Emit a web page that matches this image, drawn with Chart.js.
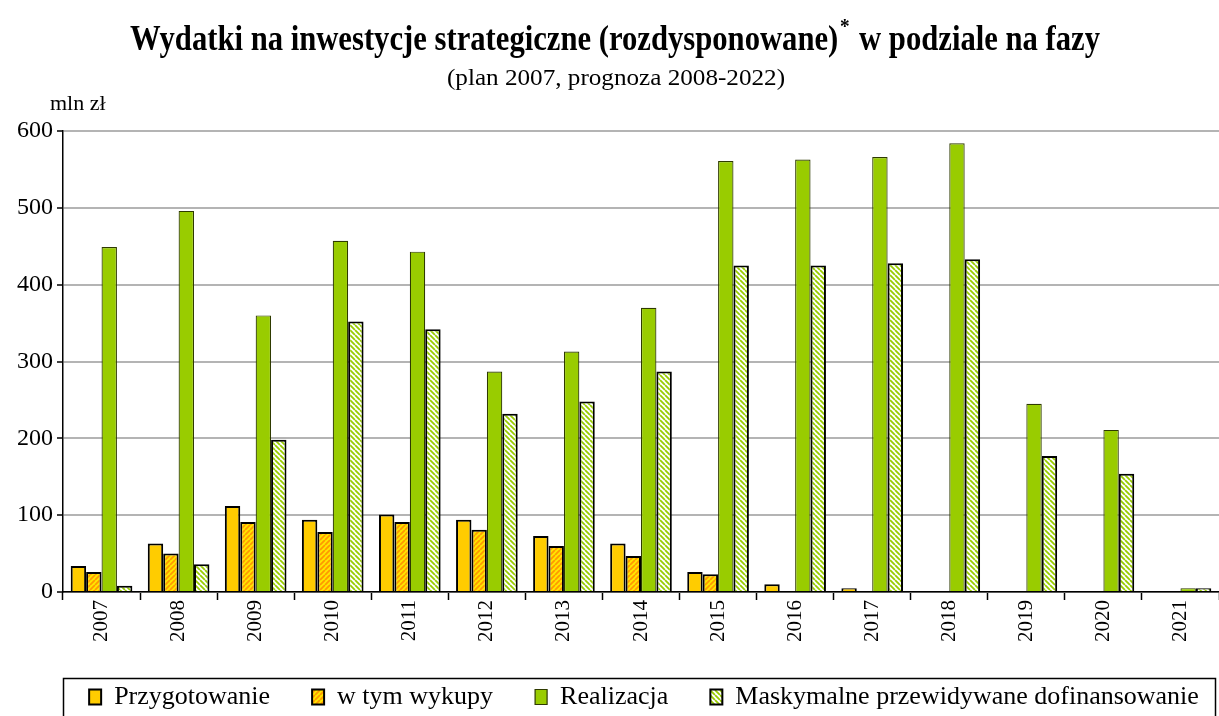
<!DOCTYPE html>
<html>
<head>
<meta charset="utf-8">
<script src="https://cdn.jsdelivr.net/npm/chart.js@4.4.1/dist/chart.umd.min.js"></script>
<style>
  html, body { margin: 0; padding: 0; background: #fff; }
  #wrap { width: 1219px; height: 716px; }
</style>
</head>
<body>
<div id="wrap"><canvas id="c" width="1219" height="716"></canvas></div>
<script>
const years = ['2007', '2008', '2009', '2010', '2011', '2012', '2013', '2014', '2015', '2016', '2017', '2018', '2019', '2020', '2021'];
const przygotowanie = [34, 63, 112, 94, 101, 94, 73, 63, 26, 10, 5, 0, 0, 0, 0];
const wykupy = [26, 50, 91, 78, 91, 81, 60, 47, 23, 0, 0, 0, 0, 0, 0];
const realizacja = [449, 496, 360, 457, 443, 287, 313, 370, 561, 563, 566, 584, 245, 211, 5];
const dofinansowanie = [8, 36, 198, 352, 342, 232, 248, 287, 425, 425, 428, 433, 177, 154, 5];
const yTicks = [0, 100, 200, 300, 400, 500, 600];

const serif = "'Liberation Serif', 'Times New Roman', serif";

// diagonal hatch pattern, dir 1 = "/" , -1 = "\"
function hatch(bg, fg, dir) {
  const s = 5;
  const cv = document.createElement('canvas');
  cv.width = s; cv.height = s;
  const x = cv.getContext('2d');
  x.fillStyle = bg;
  x.fillRect(0, 0, s, s);
  x.strokeStyle = fg;
  x.lineWidth = 1.8;
  x.beginPath();
  for (let k = -s; k <= s; k += s) {
    if (dir > 0) { x.moveTo(k, s); x.lineTo(k + s, 0); }
    else { x.moveTo(k, 0); x.lineTo(k + s, s); }
  }
  x.stroke();
  return x.createPattern(cv, 'repeat');
}

const ctx = document.getElementById('c').getContext('2d');
const yellowHatch = hatch('#FFE600', '#FF9900', 1);
const greenHatch = hatch('#FFFFFF', '#99CC00', -1);

const titlePlugin = {
  id: 'titles',
  afterLayout(chart) {
    // legend in the original sits a bit right of centre
    chart.legend.left += 28;
    chart.legend.right += 28;
  },
  afterDraw(chart) {
    const c = chart.ctx;
    c.save();
    c.fillStyle = '#000';
    c.textBaseline = 'alphabetic';
    // main title with superscript asterisk
    const p1 = 'Wydatki na inwestycje strategiczne (rozdysponowane)';
    const p2 = ' w podziale na fazy';
    c.font = 'bold 35px ' + serif;
    const w1 = c.measureText(p1).width;
    const w3 = c.measureText(p2).width;
    c.font = 'bold 22px ' + serif;
    const w2 = c.measureText('*').width + 4;
    const sx = 970 / (w1 + w2 + w3);
    c.translate(130, 50);
    c.scale(sx, 1);
    c.font = 'bold 35px ' + serif;
    c.fillText(p1, 0, 0);
    c.font = 'bold 22px ' + serif;
    c.fillText('*', w1 + 2, -17);
    c.font = 'bold 35px ' + serif;
    c.fillText(p2, w1 + w2, 0);
    c.restore();

    c.save();
    c.fillStyle = '#000';
    c.font = '23px ' + serif;
    const sub = '(plan 2007, prognoza 2008-2022)';
    const ws = c.measureText(sub).width;
    c.translate(447, 79);
    c.scale(338 / ws, 1);
    c.fillText(sub, 0, 0);
    c.restore();

    c.save();
    c.fillStyle = '#000';
    c.font = '22px ' + serif;
    c.fillText('mln zł', 50, 104);
    c.restore();

    // frame around legend
    const lg = chart.legend;
    const pad = lg.options.labels.padding;
    c.save();
    c.strokeStyle = '#000';
    c.lineWidth = 1.5;
    c.strokeRect(63.5, lg.top + pad - 5.5, 1152, 60);
    c.restore();
  }
};

new Chart(ctx, {
  type: 'bar',
  data: {
    labels: years,
    datasets: [
      { label: 'Przygotowanie', data: przygotowanie, backgroundColor: '#FFCC00', borderColor: '#000', borderWidth: 2 },
      { label: 'w tym wykupy', data: wykupy, backgroundColor: yellowHatch, borderColor: '#000', borderWidth: 2 },
      { label: 'Realizacja', data: realizacja, backgroundColor: '#99CC00', borderColor: '#2E3A00', borderWidth: 1.2 },
      { label: 'Maskymalne przewidywane dofinansowanie', data: dofinansowanie, backgroundColor: greenHatch, borderColor: '#000', borderWidth: 2 }
    ]
  },
  options: {
    responsive: false,
    animation: false,
    devicePixelRatio: 1,
    layout: { padding: { top: 131, left: 13, right: 0, bottom: -4 } },
    datasets: { bar: { categoryPercentage: 0.8, barPercentage: 1.0 } },
    scales: {
      x: {
        grid: { display: true, drawOnChartArea: false, offset: true, tickLength: 8, tickColor: '#000', tickWidth: 1.5 },
        border: { color: '#000', width: 1.5 },
        ticks: { color: '#000', font: { family: serif, size: 21 }, minRotation: 90, maxRotation: 90, padding: 0 }
      },
      y: {
        min: 0,
        max: 600,
        afterBuildTicks(axis) { axis.ticks = yTicks.map(v => ({ value: v })); },
        grid: { color: '#b4b4b4', lineWidth: 2, tickLength: 6, tickColor: '#000', tickWidth: 1.5 },
        border: { color: '#000', width: 1.5 },
        ticks: { color: '#000', font: { family: serif, size: 24 }, padding: 4 }
      }
    },
    plugins: {
      title: { display: false },
      tooltip: { enabled: false },
      legend: {
        position: 'bottom',
        labels: {
          color: '#000',
          font: { family: serif, size: 26 },
          boxWidth: 12,
          boxHeight: 15,
          padding: 42
        }
      }
    }
  },
  plugins: [titlePlugin]
});
</script>
</body>
</html>
